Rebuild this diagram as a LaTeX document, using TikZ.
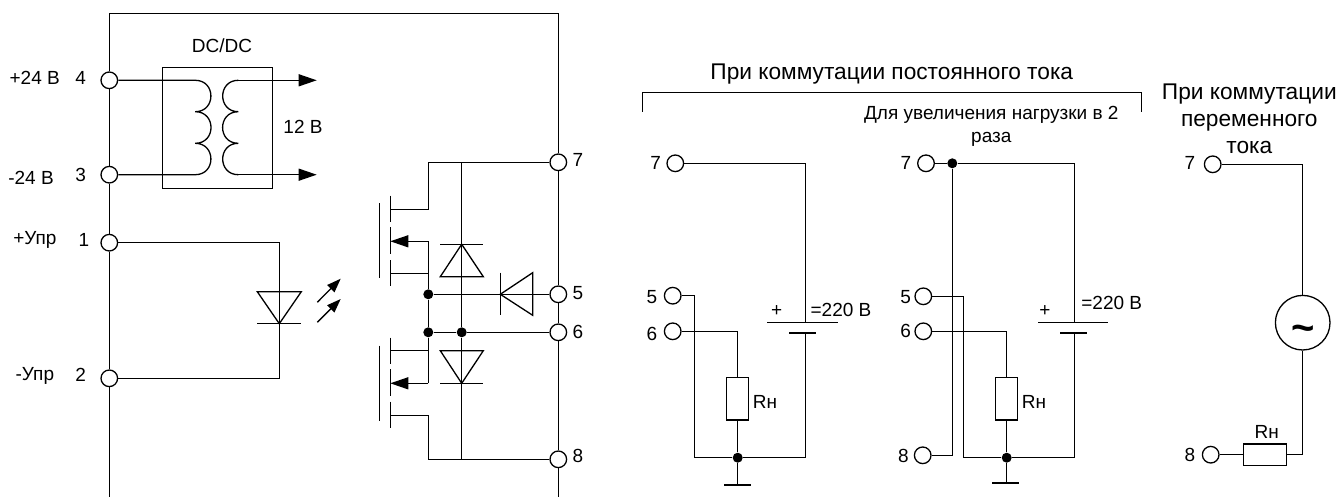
\documentclass[tikz,border=0pt]{standalone}
\usepackage{fontspec}
\setmainfont{Liberation Sans}
\usetikzlibrary{arrows.meta}
\tikzset{
    term/.style={draw,circle,fill=white,inner sep=0pt,minimum size=16.6pt},
    junct/.style={fill,circle,inner sep=0pt,minimum size=10pt},
    resbox/.style={draw,fill=white,inner sep=0pt},
    lbl/.style={inner sep=0pt,font=\fontsize{19}{23}\selectfont},
    bigfnt/.style={inner sep=0pt,align=center,font=\fontsize{22.7}{27.3}\selectfont},
    plate/.style={line width=2.2pt},
    hump/.style={out=0,in=0,looseness=1.7},
    hump2/.style={out=180,in=180,looseness=1.7},
    tip/.style={-{Triangle[length=18pt,width=12pt]}},
    ltip/.style={-{Triangle[length=14pt,width=10pt]}}
}
\begin{document}
\begin{tikzpicture}[x=1pt,y=-1pt,line width=1.3pt]
    \useasboundingbox (0,0) rectangle (1338,497);
    % main block terminals
    \node[term] (t4) at (109.3,80.3) {};
    \node[term] (t3) at (109.3,174.7) {};
    \node[term] (t1) at (109.3,242.7) {};
    \node[term] (t2) at (109.3,378.3) {};
    \node[term] (t7) at (558.3,162.3) {};
    \node[term] (t5) at (558.3,294.3) {};
    \node[term] (t6) at (558.3,332.3) {};
    \node[term] (t8) at (558.3,459.3) {};
    \coordinate (ftl) at (109.3,13.3);
    \coordinate (ftr) at (558.3,13.3);
    \coordinate (fbl) at (109.3,497);
    \coordinate (fbr) at (558.3,497);
    \draw (t4) -- (ftl) -- (ftr) -- (t7);
    \draw (t4) -- (t3);
    \draw (t3) -- (t1);
    \draw (t1) -- (t2);
    \draw (t2) -- (fbl);
    \draw (t7) -- (t5);
    \draw (t5) -- (t6);
    \draw (t6) -- (t8);
    \draw (t8) -- (fbr);
    \node[lbl,anchor=west] (n24p) at (9,78) {+24 В};
    \node[lbl] (n4) at (80.7,78) {4};
    \node[lbl,anchor=west] (n24m) at (7.7,178) {-24 В};
    \node[lbl] (n3) at (80.7,175) {3};
    \node[lbl,anchor=west] (nup) at (12.7,240) {+Упр};
    \node[lbl] (n1) at (84,240) {1};
    \node[lbl,anchor=west] (num) at (15,375.7) {-Упр};
    \node[lbl] (n2) at (80.7,375) {2};
    \node[lbl] (n7) at (578,160) {7};
    \node[lbl] (n5) at (578,293) {5};
    \node[lbl] (n6) at (578,332) {6};
    \node[lbl] (n8) at (578,456) {8};
    % DC/DC
    \draw (162.5,67.3) rectangle (272.5,188.5);
    \node[lbl] (ndc) at (222,46) {DC/DC};
    \node[lbl] (n12) at (303,127) {12 В};
    \coordinate (la) at (195.3,80.3);
    \coordinate (lb) at (195.3,111.7);
    \coordinate (lc) at (195.3,143.3);
    \coordinate (ld) at (195.3,174.7);
    \coordinate (ra) at (238.3,80.3);
    \coordinate (rb) at (238.3,111.7);
    \coordinate (rc) at (238.3,143.3);
    \coordinate (rd) at (238.3,174.7);
    \coordinate (oa) at (316.7,80.3);
    \coordinate (ob) at (316.7,174.7);
    \draw (t4) -- (la) to[hump] (lb) to[hump] (lc) to[hump] (ld) -- (t3);
    \draw[tip] (ra) -- (oa);
    \draw[tip] (rd) -- (ob);
    \draw (ra) to[hump2] (rb) to[hump2] (rc) to[hump2] (rd);
    % optocoupler
    \coordinate (lt) at (279.3,291.7);
    \coordinate (lk) at (279.3,323.7);
    \draw (t1) -| (lt);
    \draw (t2) -| (lk);
    \draw (lt) -- (lk);
    \draw (257.3,291.7) -- (301.3,291.7) -- (lk) -- cycle;
    \draw (257.3,323.7) -- (301.3,323.7);
    \draw[ltip] (317.3,302.3) -- (340.7,278.7);
    \draw[ltip] (317.3,322.3) -- (340.7,299);
    % upper transistor
    \draw (379.3,203.3) -- (379.3,278.3);
    \draw (390.3,195.7) -- (390.3,222.3);
    \draw (390.3,227.3) -- (390.3,254);
    \draw (390.3,260) -- (390.3,286);
    \node[junct] (j5) at (428.3,294.3) {};
    \node[junct] (j6) at (428.3,332.3) {};
    \node[junct] (j6b) at (461.7,332.3) {};
    \coordinate (ud) at (428.3,209.3);
    \coordinate (us) at (428.3,241.3);
    \coordinate (ub) at (428.3,273.3);
    \coordinate (ls) at (428.3,350.7);
    \coordinate (lm) at (428.3,383.3);
    \coordinate (lo) at (428.3,415.3);
    \coordinate (top7) at (428.3,162.3);
    \coordinate (bot8) at (428.3,459.3);
    \draw (t7) -- (top7) -- (ud) -- (390.3,209.3);
    \draw[tip] (us) -- (390.3,241.3);
    \draw (ub) -- (390.3,273.3);
    \draw (us) -- (j5);
    \draw (j5) -- (j6);
    \draw (j6) -- (lm);
    % lower transistor
    \draw (379.3,345.7) -- (379.3,420.7);
    \draw (390.3,337.7) -- (390.3,364);
    \draw (390.3,369.3) -- (390.3,396);
    \draw (390.3,401.7) -- (390.3,428.3);
    \draw (ls) -- (390.3,350.7);
    \draw[tip] (lm) -- (390.3,383.3);
    \draw (390.3,415.3) -- (lo) -- (bot8) -- (t8);
    % diodes
    \coordinate (d7) at (461.7,162.3);
    \coordinate (d8) at (461.7,459.3);
    \draw (d7) -- (j6b);
    \draw (j6b) -- (d8);
    \draw (j6) -- (j6b);
    \draw (j6b) -- (t6);
    \draw (j5) -- (t5);
    \draw (440.3,244.3) -- (483.3,244.3);
    \draw (440.3,276.7) -- (483.3,276.7) -- (461.7,244.3) -- cycle;
    \draw (440.3,383.3) -- (483.3,383.3);
    \draw (440.3,350.7) -- (483.3,350.7) -- (461.7,383.3) -- cycle;
    \draw (500.3,272.7) -- (500.3,315.3);
    \draw (532.7,272.7) -- (532.7,315.3) -- (500.3,294.3) -- cycle;
    % direct current
    \node[bigfnt] (ndc1) at (891.7,74) {При коммутации постоянного тока};
    \draw (642.7,112) -- (642.7,92.7) -- (1141.3,92.7) -- (1141.3,112);
    \node[term] (a7) at (675.3,163.3) {};
    \node[term] (a5) at (672.7,295.7) {};
    \node[term] (a6) at (672.7,331.3) {};
    \node[lbl] (m7) at (655.7,163) {7};
    \node[lbl] (m5) at (652,296.7) {5};
    \node[lbl] (m6) at (652,334) {6};
    \node[resbox,minimum width=22pt,minimum height=42.3pt] (ra1) at (737.7,398.8) {};
    \node[lbl] (mr) at (765,401.7) {Rн};
    \node[junct] (ja) at (737.7,457.7) {};
    \coordinate (ga) at (737.7,484.7);
    \coordinate (ba) at (805.3,322.7);
    \coordinate (bb) at (805.3,333.3);
    \draw (a7) -| (ba);
    \draw (767.3,322.7) -- (837.7,322.7);
    \draw[plate] (789,333.3) -- (816,333.3);
    \draw (bb) |- (ja);
    \draw (a5) -| (694.3,457.7) -- (ja);
    \draw (a6) -| (ra1);
    \draw (ra1) -- (ja);
    \draw (ja) -- (ga);
    \draw[plate] (724.3,484.7) -- (751,484.7);
    \node[lbl] (mp) at (776.7,310.7) {+};
    \node[lbl] (mv) at (841,310) {=220 В};
    % doubled load
    \node[lbl,align=center] (ndbl) at (991.3,126.5) {Для увеличения нагрузки в 2\\раза};
    \node[term] (b7) at (926,163.3) {};
    \node[term] (b5) at (923.3,296.3) {};
    \node[term] (b6) at (923.3,331.3) {};
    \node[term] (b8) at (922.7,455.3) {};
    \node[lbl] (k7) at (906,163.3) {7};
    \node[lbl] (k5) at (905.7,296.7) {5};
    \node[lbl] (k6) at (905.7,331) {6};
    \node[lbl] (k8) at (903.3,455.7) {8};
    \node[junct] (jb7) at (952.3,163.3) {};
    \node[resbox,minimum width=22pt,minimum height=42.3pt] (rb1) at (1006.7,398.8) {};
    \node[lbl] (kr) at (1034,401.7) {Rн};
    \node[junct] (jb) at (1006.7,457.7) {};
    \coordinate (gb) at (1006.7,483.3);
    \coordinate (bc) at (1074.3,322.7);
    \coordinate (bd) at (1074.3,333.3);
    \draw (b7) -- (jb7);
    \draw (jb7) -| (bc);
    \draw (jb7) |- (b8);
    \draw (1038.3,322.7) -- (1108.3,322.7);
    \draw[plate] (1060,333.3) -- (1086.7,333.3);
    \draw (bd) |- (jb);
    \draw (b5) -| (963.3,457.7) -- (jb);
    \draw (b6) -| (rb1);
    \draw (rb1) -- (jb);
    \draw (jb) -- (gb);
    \draw[plate] (992.3,483.3) -- (1019,483.3);
    \node[lbl] (kp) at (1045,310.7) {+};
    \node[lbl] (kv) at (1111.7,303.3) {=220 В};
    % alternating current
    \node[bigfnt] (nac) at (1249.3,119) {При коммутации\\переменного\\тока};
    \node[term] (c7) at (1212.7,164.3) {};
    \node[term] (c8) at (1210.7,454.7) {};
    \node[lbl] (p7) at (1190,163) {7};
    \node[lbl] (p8) at (1190,455) {8};
    \node[draw,circle,inner sep=0pt,minimum size=54.6pt,fill=white] (src) at (1302.7,322.7) {};
    \node[inner sep=0pt,font=\bfseries\fontsize{40}{40}\selectfont] (til) at (1302.7,333) {\textasciitilde};
    \node[resbox,minimum width=43pt,minimum height=21.7pt] (rc1) at (1264.8,454.7) {};
    \node[lbl] (pr) at (1266.7,431.7) {Rн};
    \draw (c7) -| (src);
    \draw (src) |- (rc1);
    \draw (c8) -- (rc1);
\end{tikzpicture}
\end{document}
